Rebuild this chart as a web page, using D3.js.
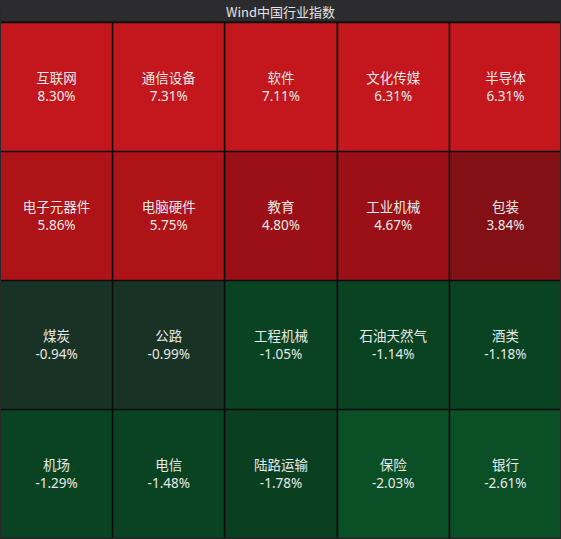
<!DOCTYPE html>
<html>
<head>
<meta charset="utf-8">
<script src="https://cdn.jsdelivr.net/npm/d3@7"></script>
<style>
  html, body { margin: 0; padding: 0; background: #111; }
  svg { display: block; }
</style>
</head>
<body>
<svg id="chart" width="561" height="539"></svg>
<script>
const title = "Wind中国行业指数";
const industries = ["互联网","通信设备","软件","文化传媒","半导体",
                    "电子元器件","电脑硬件","教育","工业机械","包装",
                    "煤炭","公路","工程机械","石油天然气","酒类",
                    "机场","电信","陆路运输","保险","银行"];
const changes = [8.30, 7.31, 7.11, 6.31, 6.31,
                 5.86, 5.75, 4.80, 4.67, 3.84,
                 -0.94, -0.99, -1.05, -1.14, -1.18,
                 -1.29, -1.48, -1.78, -2.03, -2.61];
const nCols = 5;

const W = 561, H = 539, titleH = 22;
const svg = d3.select("#chart");

const data = industries.map((name, i) => ({
  name, value: changes[i], col: i % nCols, row: Math.floor(i / nCols)
}));
const nRows = Math.ceil(data.length / nCols);

const x = d3.scaleBand().domain(d3.range(nCols)).range([0, W]).paddingInner(0);
const y = d3.scaleBand().domain(d3.range(nRows)).range([titleH, H - 1]).paddingInner(0);

const color = d3.scaleThreshold()
  .domain([-2, -1.5, -1, 0, 3, 4, 5, 6])
  .range(["#0b4f26", "#0a3f20", "#0a4322", "#183325", "#6e0e12",
          "#821014", "#9a1016", "#ad1317", "#c3171d"]);

// background
svg.append("rect").attr("width", W).attr("height", H).attr("fill", "#1a1a1a");

// title bar
svg.append("rect").attr("x", 0).attr("y", 0).attr("width", W).attr("height", titleH - 1)
  .attr("fill", "#2c2c2f");
svg.append("text")
  .attr("x", W / 2).attr("y", 11)
  .attr("text-anchor", "middle").attr("dominant-baseline", "central")
  .attr("font-family", "'Noto Sans CJK SC', 'Noto Sans', sans-serif")
  .attr("font-size", 13).attr("fill", "#e4e4e4")
  .text(title);

const cells = svg.selectAll("g.cell").data(data).join("g")
  .attr("class", "cell")
  .attr("transform", d => `translate(${x(d.col)},${y(d.row)})`);

cells.append("rect")
  .attr("x", 1).attr("y", 1)
  .attr("width", x.bandwidth() - 1)
  .attr("height", y.bandwidth() - 1)
  .attr("fill", d => color(d.value));

cells.append("text")
  .attr("x", x.bandwidth() / 2 + 0.5)
  .attr("y", y.bandwidth() / 2 - 10)
  .attr("text-anchor", "middle").attr("dominant-baseline", "central")
  .attr("font-family", "'Noto Sans CJK SC', sans-serif")
  .attr("font-size", 13.5).attr("fill", "#e8e8e8")
  .text(d => d.name);

cells.append("text")
  .attr("x", x.bandwidth() / 2 + 0.5)
  .attr("y", y.bandwidth() / 2 + 9.5)
  .attr("text-anchor", "middle").attr("dominant-baseline", "central")
  .attr("font-family", "'Noto Sans', 'Noto Sans CJK SC', sans-serif")
  .attr("font-size", 13.5).attr("fill", "#e8e8e8")
  .text(d => d.value.toFixed(2) + "%");

// grid lines (black)
const gridColor = "#0c0c0c";
svg.append("g").selectAll("line.v").data(d3.range(1, nCols)).join("line")
  .attr("x1", d => Math.round(x(d)) + 0.5).attr("x2", d => Math.round(x(d)) + 0.5)
  .attr("y1", titleH).attr("y2", H - 1)
  .attr("stroke", gridColor).attr("stroke-width", 1.5);
svg.append("g").selectAll("line.h").data(d3.range(0, nRows + 1)).join("line")
  .attr("x1", 0).attr("x2", W)
  .attr("y1", d => Math.round(d === nRows ? H - 1 : y(d)) + 0.5)
  .attr("y2", d => Math.round(d === nRows ? H - 1 : y(d)) + 0.5)
  .attr("stroke", gridColor).attr("stroke-width", 1.5);
// outer border
svg.append("rect").attr("x", 0.5).attr("y", 0.5).attr("width", W - 1).attr("height", H - 1)
  .attr("fill", "none").attr("stroke", "#2a2a2c").attr("stroke-width", 1);
</script>
</body>
</html>
